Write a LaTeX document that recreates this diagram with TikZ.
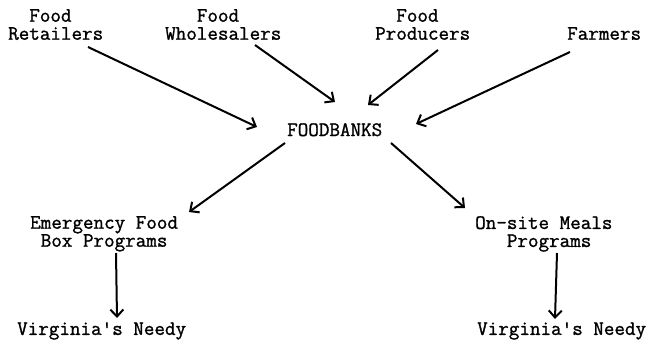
\documentclass[tikz,border=0pt]{standalone}
\usepackage{fontspec}
\newfontfamily\tw{Latin Modern Mono}[FakeBold=1.2]
\usetikzlibrary{arrows.meta}
\tikzset{
  lbl/.style={anchor=north west, inner sep=0pt, align=left,
    font=\tw\fontsize{20.5}{18}\selectfont},
  arr/.style={line width=2pt, -{Straight Barb[length=7pt,width=13pt,line width=2pt]}}
}
\begin{document}
\begin{tikzpicture}[x=1pt,y=-1pt]
\useasboundingbox (0,0) rectangle (654,345);
\node[lbl] (ret) at (8,9) {\phantom{Fo}Food\\Retailers};
\node[lbl] (who) at (165,9) {\phantom{Foo}Food\\Wholesalers};
\node[lbl] (pro) at (375,9) {\phantom{Fo}Food\\Producers};
\node[lbl] (far) at (567,27) {Farmers};
\node[lbl] (fb) at (287,123) {FOODBANKS};
\node[lbl] (emg) at (30,216) {Emergency Food\\\phantom{B}Box Programs};
\node[lbl] (ons) at (475,216) {On-site Meals\\\phantom{Pro}Programs};
\node[lbl] (vn1) at (17,322) {Virginia's Needy};
\node[lbl] (vn2) at (477,322) {Virginia's Needy};
\draw[arr] ([shift={(80,38)}]ret.north west) -- ([shift={(-30,4)}]fb.north west);
\draw[arr] ([shift={(90,36)}]who.north west) -- ([shift={(48,-21)}]fb.north west);
\draw[arr] ([shift={(63,41)}]pro.north west) -- ([shift={(81,-18)}]fb.north west);
\draw[arr] ([shift={(3,25)}]far.north west) -- ([shift={(129,1)}]fb.north west);
\draw[arr] ([shift={(-2,20)}]fb.north west) -- ([shift={(159,-4)}]emg.north west);
\draw[arr] ([shift={(104,20)}]fb.north west) -- ([shift={(-10,-8)}]ons.north west);
\draw[arr] ([shift={(86,37)}]emg.north west) -- ([shift={(100,-4)}]vn1.north west);
\draw[arr] ([shift={(82,37)}]ons.north west) -- ([shift={(78,-3)}]vn2.north west);
\end{tikzpicture}
\end{document}
